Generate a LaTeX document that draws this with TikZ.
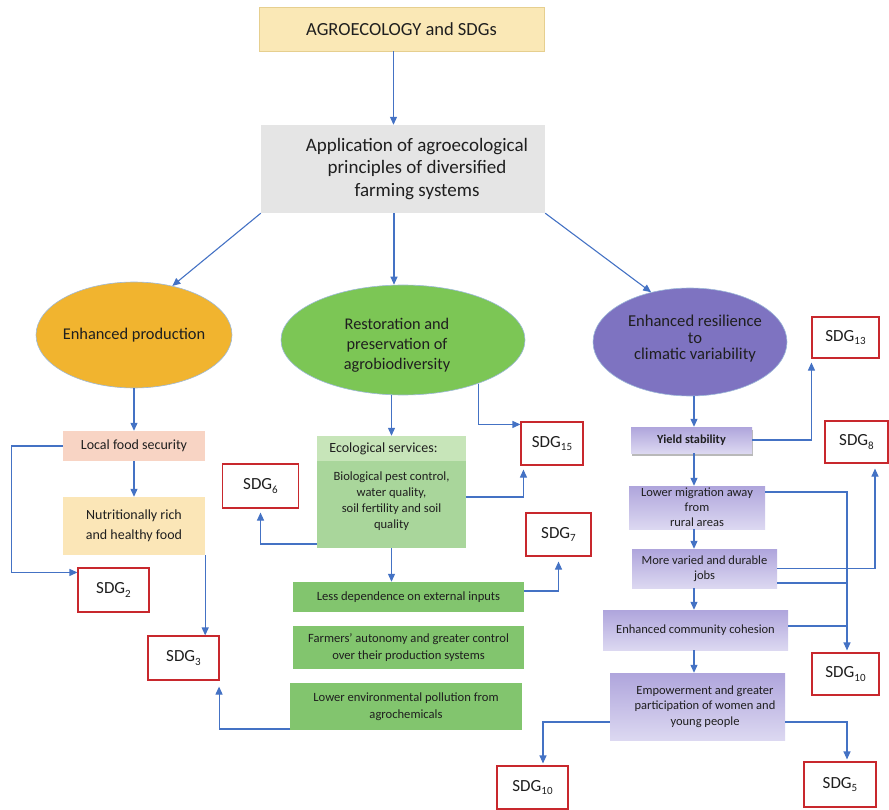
\documentclass[tikz,border=0pt]{standalone}
\usepackage{fontspec}
\setmainfont{Carlito}
\usetikzlibrary{arrows.meta,shapes.geometric,shadows}
\definecolor{arrowblue}{HTML}{4472C4}
\definecolor{sdgred}{HTML}{C8282D}
\definecolor{topfill}{HTML}{FAE8B6}
\definecolor{topdraw}{HTML}{E6CF8F}
\definecolor{appgray}{HTML}{E5E5E5}
\definecolor{ellorange}{HTML}{F1B42F}
\definecolor{ellgreen}{HTML}{7CC655}
\definecolor{ellpurple}{HTML}{7E73C1}
\definecolor{ellborder}{HTML}{9DB9D9}
\definecolor{localfill}{HTML}{F8D4C4}
\definecolor{nutrifill}{HTML}{FBE6B7}
\definecolor{ecohfill}{HTML}{C7E5B9}
\definecolor{ecobfill}{HTML}{A9D69B}
\definecolor{greenbox}{HTML}{82C56E}
\definecolor{purptop}{HTML}{AFA5DC}
\definecolor{purpbot}{HTML}{DCD8F1}
\definecolor{txt}{HTML}{1F1F1F}
\newcommand\fs[2]{\fontsize{#1}{#2}\selectfont}
\newcommand\sdgt[1]{SDG\raisebox{-0.22em}{\fontsize{11}{11}\selectfont #1}}
\begin{document}
\begin{tikzpicture}[x=1pt,y=-1pt,
  box/.style={rectangle, inner sep=0pt, align=center, text=txt},
  ell/.style={ellipse, inner sep=0pt, draw=ellborder, line width=0.6pt},
  sdgbox/.style={rectangle, inner sep=0pt, draw=sdgred, line width=1.1pt, fill=white, text=txt, font=\fs{17}{20}},
  pbox/.style={box, top color=purptop, bottom color=purpbot, font=\fs{12.5}{15}},
  gbox/.style={box, fill=greenbox, font=\fs{12.6}{17}},
  arr/.style={draw=arrowblue, line width=1.1pt, -{Triangle[length=8pt,width=7pt]}},
  ln/.style={draw=arrowblue, line width=1.1pt}]
\useasboundingbox (0,0) rectangle (889,810);

% top
\node[box, fill=topfill, draw=topdraw, line width=0.6pt, minimum width=285pt, minimum height=44pt, font=\fs{18.5}{22}] (top) at (401.5,29) {AGROECOLOGY and SDGs};
\node[box, fill=appgray, minimum width=284pt, minimum height=88pt,
  label={[align=center, text=txt, font=\fs{19}{22.5}, xshift=14pt]center:Application of agroecological\\principles of diversified\\farming systems}] (app) at (403,169) {};

% ellipses
\node[ell, fill=ellorange, minimum width=196pt, minimum height=106pt,
  label={[align=center, text=txt, font=\fs{16.4}{20}]center:Enhanced production}] (e1) at (134,335) {};
\node[ell, fill=ellgreen, minimum width=244pt, minimum height=110pt,
  label={[align=center, text=txt, font=\fs{16.3}{20}, xshift=-6pt, yshift=-5pt]center:Restoration and\\preservation of\\agrobiodiversity}] (e2) at (403,340) {};
\node[ell, fill=ellpurple, minimum width=194pt, minimum height=108pt,
  label={[align=center, text=txt, font=\fs{16.6}{16.5}, xshift=5pt, yshift=3pt]center:Enhanced resilience\\to\\climatic variability}] (e3) at (690,342) {};

% left column
\node[box, fill=localfill, minimum width=142pt, minimum height=30pt, font=\fs{14}{18}] (local) at (134,446) {Local food security};
\node[box, fill=nutrifill, minimum width=142pt, minimum height=58pt, font=\fs{14}{20}] (nutri) at (134,526) {Nutritionally rich\\and healthy food};
\node[sdgbox, minimum width=71pt, minimum height=44pt] (sdg2) at (113.5,590) {\sdgt{2}};
\node[sdgbox, minimum width=71pt, minimum height=44pt] (sdg3) at (183.5,658) {\sdgt{3}};

% middle column
\node[box, fill=ecohfill, minimum width=149pt, minimum height=25pt,
  label={[text=txt, font=\fs{14}{18}, xshift=-8pt]center:Ecological services:}] (ecohead) at (391.5,448.5) {};
\node[box, fill=ecobfill, minimum width=149pt, minimum height=87pt,
  label={[align=center, text=txt, font=\fs{12.6}{16}, yshift=3pt]center:Biological pest control,\\water quality,\\soil fertility and soil\\quality}] (ecobody) at (391.5,504.5) {};
\node[sdgbox, minimum width=76pt, minimum height=44pt] (sdg6) at (260.5,486) {\sdgt{6}};
\node[sdgbox, minimum width=62pt, minimum height=43pt] (sdg15) at (552,443.5) {\sdgt{15}};
\node[sdgbox, minimum width=65pt, minimum height=43pt] (sdg7) at (558.5,534.5) {\sdgt{7}};
\node[gbox, minimum width=231pt, minimum height=30pt] (less) at (408.5,597) {Less dependence on external inputs};
\node[gbox, minimum width=231pt, minimum height=43pt] (farm) at (408.5,647.5) {Farmers’ autonomy and greater control\\over their production systems};
\node[gbox, minimum width=232pt, minimum height=47pt] (pol) at (406,706.5) {Lower environmental pollution from\\agrochemicals};

% right column
\node[sdgbox, minimum width=67pt, minimum height=41pt] (sdg13) at (845.5,337.5) {\sdgt{13}};
\node[pbox, minimum width=121pt, minimum height=26pt, font=\bfseries\fs{12.3}{15},
  drop shadow={shadow xshift=1pt, shadow yshift=-3pt, opacity=0.55}] (yield) at (691.5,440) {Yield stability};
\node[sdgbox, minimum width=63pt, minimum height=42pt] (sdg8) at (856.5,442) {\sdgt{8}};
\node[pbox, minimum width=136pt, minimum height=43pt] (lower) at (697,507.5) {Lower migration away\\from\\rural areas};
\node[pbox, minimum width=145pt, minimum height=39pt] (more) at (704.5,568.5) {More varied and durable\\jobs};
\node[pbox, minimum width=185pt, minimum height=40pt] (comm) at (695.5,630) {Enhanced community cohesion};
\node[pbox, minimum width=175pt, minimum height=67pt,
  label={[align=center, text=txt, font=\fs{12.5}{15.5}, xshift=7.5pt]center:Empowerment and greater\\participation of women and\\young people}] (emp) at (697.5,706.5) {};
\node[sdgbox, minimum width=67pt, minimum height=42pt] (sdg10r) at (845.5,674) {\sdgt{10}};
\node[sdgbox, minimum width=71pt, minimum height=43pt] (sdg10b) at (532.5,787.5) {\sdgt{10}};
\node[sdgbox, minimum width=72pt, minimum height=45pt] (sdg5) at (840,784.5) {\sdgt{5}};

\coordinate (spine) at (694,0);

% connectors top
\draw[arr] ([xshift=-8pt]top.south) -- ([xshift=-8pt]top.south |- app.north);
\draw[arr] (app.south west) -- (e1.52);
\draw[arr] ([xshift=-9pt]app.south) -- ([xshift=-9pt]app.south |- e2.north);
\draw[arr] (app.south east) -- (e3.128);

% left
\draw[arr] (e1.south) -- (local.north);
\draw[arr] (local.south) -- (nutri.north);
\draw[arr] (local.west) -- ++(-51,0) |- ([yshift=-5pt]sdg2.north west);
\draw[arr] (nutri.south east) -- (nutri.south east |- sdg3.north);
\draw[arr, shorten >=6pt] ([yshift=-22.5pt]pol.west) -| ([xshift=-0.5pt]sdg3.south east);

% middle
\draw[arr] (ecohead.north |- e2.south) -- (ecohead.north);
\draw[arr] (e2.-30) |- ([yshift=-3pt]sdg15.north west);
\draw[arr, shorten >=4pt] ([yshift=7.5pt]ecobody.east) -| ([xshift=3pt]sdg15.south west);
\draw[arr, shorten >=4pt] ([yshift=-39.5pt]ecobody.west) -| (sdg6.south);
\draw[arr] (ecobody.south) -- (ecobody.south |- less.north);
\draw[arr, shorten >=5pt] ([yshift=6pt]less.east) -| (sdg7.south);

% right
\draw[arr] (spine |- e3.south) -- (spine |- yield.north);
\draw[arr, shorten >=4pt] (yield.east) -| (sdg13.south west);
\draw[arr] (spine |- yield.south) -- (spine |- lower.north);
\draw[arr] (spine |- lower.south) -- (spine |- more.north);
\draw[arr] (spine |- more.south) -- (spine |- comm.north);
\draw[arr] (spine |- comm.south) -- (spine |- emp.north);
\draw[arr, shorten >=2pt] ([yshift=15.5pt]lower.east) -| ([xshift=1.5pt]sdg10r.north);
\draw[ln] ([yshift=-14.5pt]more.east) -- ([yshift=-14.5pt,xshift=1.5pt]more.east -| sdg10r.north);
\draw[ln] ([yshift=4pt]comm.east) -- ([yshift=4pt,xshift=1.5pt]comm.east -| sdg10r.north);
\draw[arr, shorten >=5pt] (more.east) -| ([xshift=18.5pt]sdg8.south);
\draw[arr, shorten >=2pt] ([yshift=-15.5pt]emp.west) -| ([xshift=10.5pt]sdg10b.north);
\draw[arr, shorten >=2pt] ([yshift=-15.5pt]emp.east) -| ([xshift=7pt]sdg5.north);
\end{tikzpicture}
\end{document}
